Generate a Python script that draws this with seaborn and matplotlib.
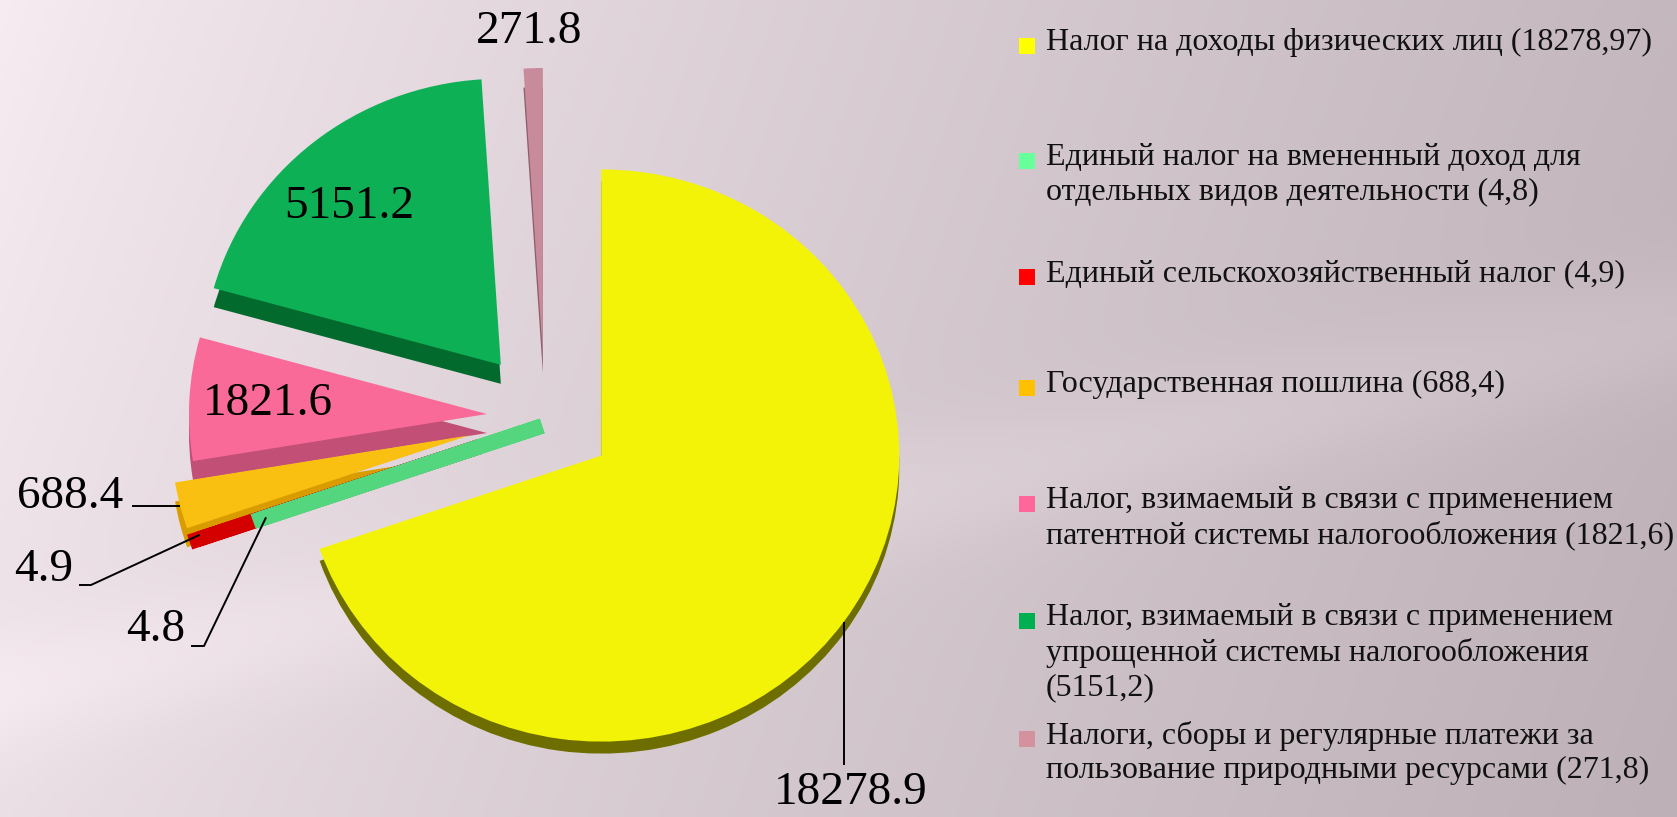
import numpy as np
import matplotlib.pyplot as plt
import seaborn as sns

sns.set_theme(style="white")
plt.rcParams['font.family'] = ['Liberation Serif', 'DejaVu Serif']

# ------------------- DATA -------------------
legend_labels = [
    "Налог на доходы физических лиц (18278,97)",
    "Единый налог на вмененный доход для\nотдельных видов деятельности (4,8)",
    "Единый сельскохозяйственный налог (4,9)",
    "Государственная пошлина (688,4)",
    "Налог, взимаемый в связи с применением\nпатентной системы налогообложения (1821,6)",
    "Налог, взимаемый в связи с применением\nупрощенной системы налогообложения\n(5151,2)",
    "Налоги, сборы и регулярные платежи за\nпользование природными ресурсами (271,8)",
]
values = [18278.97, 4.8, 4.9, 688.4, 1821.6, 5151.2, 271.8]
value_labels = ["18278.9", "4.8", "4.9", "688.4", "1821.6", "5151.2", "271.8"]

# ------------------- STYLE -------------------
top_colors = ["#F3F308", "#54D67E", "#D40000", "#F9C012", "#F96A99", "#0EB056", "#C88B9B"]
side_colors = ["#6E6E00", "#54D67E", "#D40000", "#D89C00", "#C24F76", "#036A2D", "#8E5E6B"]
legend_colors = ["#FFFF00", "#66FF99", "#FF0000", "#FFC000", "#FF6699", "#00B050", "#D4919E"]
explode_frac = [0.232, 0.01, 0.235, 0.263, 0.195, 0.235, 0.22]
depth = [12, 8, 8, 19, 19, 19, 19]          # visible thickness of the 3d wall (px)
strip_lw = [0, 11, 11, 0, 0, 0, 0]           # tiny slices drawn as their wall only

W, H = 1677, 817
R = 298
SQUASH = 0.96                                # slight perspective: pie is flatter than wide
CENTER = (545, 400)                          # pixels from bottom-left

# label layout (pixels, y from bottom)
label_pos = [(851, 24), (156, 187), (44, 247), (70, 320), (268, 413), (349, 610), (529, 785)]
legend_y = [772, 657, 541, 430, 314, 197, 79]

fig = plt.figure(figsize=(W / 100, H / 100), dpi=100)
ax = fig.add_axes([0, 0, 1, 1])
pax = fig.add_axes([0, 0, 1, 1])
pax.patch.set_visible(False)

# background gradient
xx, yy = np.meshgrid(np.linspace(0, 1, 400), np.linspace(0, 1, 200))
t = np.clip(0.85 * xx + 0.15 * (1 - yy), 0, 1) ** 0.8
light = np.array([247, 236, 242]) / 255
dark = np.array([189, 177, 183]) / 255
img = light[None, None, :] * (1 - t[..., None]) + dark[None, None, :] * t[..., None]
d = np.abs((yy - 0.15) - 0.45 * xx)
img = np.clip(img + 0.035 * np.exp(-(d / 0.08) ** 2)[..., None], 0, 1)
ax.imshow(img, extent=[0, W, 0, H], origin="lower", aspect="auto", zorder=0)

explode = [e * R for e in explode_frac]
pcenter = (CENTER[0], CENTER[1] / SQUASH)

# side walls (shadow pie)
side, _ = pax.pie(values, colors=side_colors, startangle=90, counterclock=False,
                  radius=R, center=pcenter, explode=explode,
                  wedgeprops=dict(linewidth=0))
for i, w in enumerate(side):
    cx, cy = w.center
    w.set_center((cx, cy - depth[i] / SQUASH))
    w.set_zorder(1)
    if strip_lw[i]:
        w.set_edgecolor(side_colors[i])
        w.set_linewidth(strip_lw[i])
        w.set_zorder(1.7 if i == 1 else 1.6)

# top faces
tops, _ = pax.pie(values, colors=top_colors, startangle=90, counterclock=False,
                  radius=R, center=pcenter, explode=explode,
                  wedgeprops=dict(linewidth=0))
for i, w in enumerate(tops):
    w.set_zorder(3)
    if strip_lw[i]:
        w.set_visible(False)

pax.set_xlim(0, W)
pax.set_ylim(0, H / SQUASH)
pax.set_aspect("auto")
pax.axis("off")


def rim_point(w, frac=1.0):
    """Point on a wedge's bisector, returned in figure pixels."""
    mid = np.deg2rad((w.theta1 + w.theta2) / 2)
    cx, cy = w.center
    return cx + frac * w.r * np.cos(mid), (cy + frac * w.r * np.sin(mid)) * SQUASH


# value labels
for txt, (x, y) in zip(value_labels, label_pos):
    pax.text(x, y / SQUASH, txt, fontsize=34, ha="center", va="center", color="black", zorder=6)

# leader lines (drawn on the pie axes, converted from pixels)
lk = dict(color="black", lw=1.4, zorder=5, solid_capstyle="butt")


def leader(xs, ys):
    pax.plot(xs, [v / SQUASH for v in ys], **lk)


ax0, ay0 = rim_point(tops[0])
leader([ax0, ax0], [ay0, 52])
ox, oy = rim_point(tops[3])
leader([132, ox], [oy, oy])
rx, ry = rim_point(tops[2], 0.99)
leader([79, 91, rx], [232, 232, ry - 4])
gx, gy = rim_point(tops[1], 0.98)
leader([191, 204, gx], [171, 171, gy - 8])

# legend
for y, lab, col in zip(legend_y, legend_labels, legend_colors):
    ax.scatter([1027], [y - 1], marker="s", s=120, color=col, linewidths=0, zorder=6)
    ax.text(1046, y + 17, lab, fontsize=23, ha="left", va="top", linespacing=1.24,
            color="#111111", zorder=6)

ax.set_xlim(0, W)
ax.set_ylim(0, H)
ax.set_aspect("auto")
ax.axis("off")

fig.savefig("out.png", dpi=100)
